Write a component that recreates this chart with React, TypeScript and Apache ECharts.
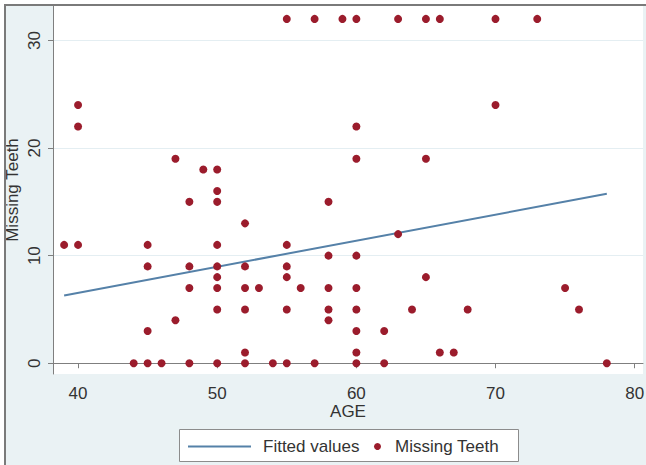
import React, { useEffect, useRef } from "react";
import * as echarts from "echarts";

const ages = [
  55, 57, 59, 60, 63, 65, 66, 70, 73,
  40, 70,
  40, 60,
  47, 60, 65,
  49, 50,
  50,
  48, 50, 58,
  52,
  63,
  39, 40, 45, 50, 55,
  58, 60,
  45, 48, 50, 52, 55,
  50, 55, 65,
  48, 50, 52, 53, 56, 58, 60, 75,
  50, 52, 55, 58, 60, 64, 68, 76,
  47, 58,
  45, 60, 62,
  52, 60, 66, 67,
  44, 45, 46, 48, 50, 52, 54, 55, 57, 60, 62, 78,
];
const missingTeeth = [
  32, 32, 32, 32, 32, 32, 32, 32, 32,
  24, 24,
  22, 22,
  19, 19, 19,
  18, 18,
  16,
  15, 15, 15,
  13,
  12,
  11, 11, 11, 11, 11,
  10, 10,
  9, 9, 9, 9, 9,
  8, 8, 8,
  7, 7, 7, 7, 7, 7, 7, 7,
  5, 5, 5, 5, 5, 5, 5, 5,
  4, 4,
  3, 3, 3,
  1, 1, 1, 1,
  0, 0, 0, 0, 0, 0, 0, 0, 0, 0, 0, 0,
];

// Fitted values line (endpoints)
const fittedAges = [39, 78];
const fittedValues = [6.3, 15.75];

const xTicks = [40, 50, 60, 70, 80];
const yTicks = [0, 10, 20, 30];

const FONT = "'Liberation Sans', Arial, sans-serif";
const TEXT = "#333333";
const AXIS = "#7f7f7f";

export default function App() {
  const ref = useRef<HTMLDivElement>(null);

  useEffect(() => {
    if (!ref.current) return;
    const chart = echarts.init(ref.current, null, { renderer: "svg" });
    const scatterData = ages.map((a, i) => [a, missingTeeth[i]]);
    const lineData = fittedAges.map((a, i) => [a, fittedValues[i]]);

    chart.setOption({
      animation: false,
      backgroundColor: "#eaf2f4",
      textStyle: { fontFamily: FONT },
      grid: {
        left: 53,
        right: 3,
        top: 6,
        bottom: 91,
        containLabel: false,
        outerBoundsMode: "none",
        show: true,
        backgroundColor: "#ffffff",
        borderWidth: 0,
      },
      xAxis: {
        type: "value",
        min: 38.2,
        max: 80.6,
        name: "AGE",
        nameLocation: "middle",
        nameGap: 29,
        nameMoveOverlap: false,
        nameTextStyle: { fontSize: 17, color: TEXT, fontFamily: FONT },
        axisLine: { show: true, lineStyle: { color: AXIS, width: 1 } },
        axisTick: {
          show: true,
          length: 5,
          customValues: xTicks,
          lineStyle: { color: AXIS },
        },
        axisLabel: {
          customValues: xTicks,
          fontSize: 17,
          color: TEXT,
          margin: 11,
          fontFamily: FONT,
        },
        splitLine: { show: false },
      },
      yAxis: {
        type: "value",
        min: -1,
        max: 33.2,
        name: "Missing Teeth",
        nameLocation: "middle",
        nameGap: 32,
        nameMoveOverlap: false,
        nameTextStyle: { fontSize: 17, color: TEXT, fontFamily: FONT },
        axisLine: { show: true, lineStyle: { color: AXIS, width: 1 } },
        axisTick: {
          show: true,
          length: 5,
          customValues: yTicks,
          lineStyle: { color: AXIS },
        },
        axisLabel: {
          customValues: yTicks,
          rotate: 90,
          fontSize: 17,
          color: TEXT,
          margin: 10,
          fontFamily: FONT,
        },
        splitLine: { show: true, lineStyle: { color: "#e4eef2", width: 1 } },
      },
      legend: [
        {
          data: ["Fitted values"],
          left: 187,
          top: 438,
          padding: 0,
          itemWidth: 63,
          itemHeight: 14,
          z: 10,
          itemStyle: { opacity: 0 },
          lineStyle: { color: "#5581a8", width: 2 },
          textStyle: {
            fontSize: 17,
            color: TEXT,
            fontFamily: FONT,
            padding: [0, 0, 0, 7],
          },
        },
        {
          data: ["Missing Teeth"],
          left: 374,
          top: 438,
          padding: 0,
          itemWidth: 25,
          itemHeight: 7,
          icon: "circle",
          z: 10,
          textStyle: { fontSize: 17, color: TEXT, fontFamily: FONT },
        },
      ],
      graphic: [
        { type: "rect", z: 0, shape: { x: 0, y: 0, width: 646, height: 5 }, style: { fill: "#ffffff" } },
        { type: "rect", z: 0, shape: { x: 0, y: 0, width: 5, height: 465 }, style: { fill: "#ffffff" } },
        { type: "line", z: 5, shape: { x1: 4, y1: 5, x2: 646, y2: 5 }, style: { stroke: "#7a7a7a", lineWidth: 2 } },
        { type: "line", z: 5, shape: { x1: 5, y1: 5, x2: 5, y2: 465 }, style: { stroke: "#7a7a7a", lineWidth: 2 } },
        {
          type: "rect",
          z: 1,
          shape: { x: 179.5, y: 429.5, width: 339, height: 32 },
          style: { fill: "#ffffff", stroke: "#8c8c8c", lineWidth: 1 },
        },
      ],
      series: [
        {
          name: "Fitted values",
          type: "line",
          data: lineData,
          symbol: "none",
          lineStyle: { color: "#5581a8", width: 2 },
          itemStyle: { color: "#5581a8" },
          z: 2,
        },
        {
          name: "Missing Teeth",
          type: "scatter",
          data: scatterData,
          symbol: "circle",
          symbolSize: 8,
          itemStyle: { color: "#9b1c2c", opacity: 1 },
          z: 3,
        },
      ],
    });

    return () => chart.dispose();
  }, []);

  return (
    <div
      ref={ref}
      style={{ position: "fixed", left: 0, top: 0, width: 646, height: 465 }}
    />
  );
}
